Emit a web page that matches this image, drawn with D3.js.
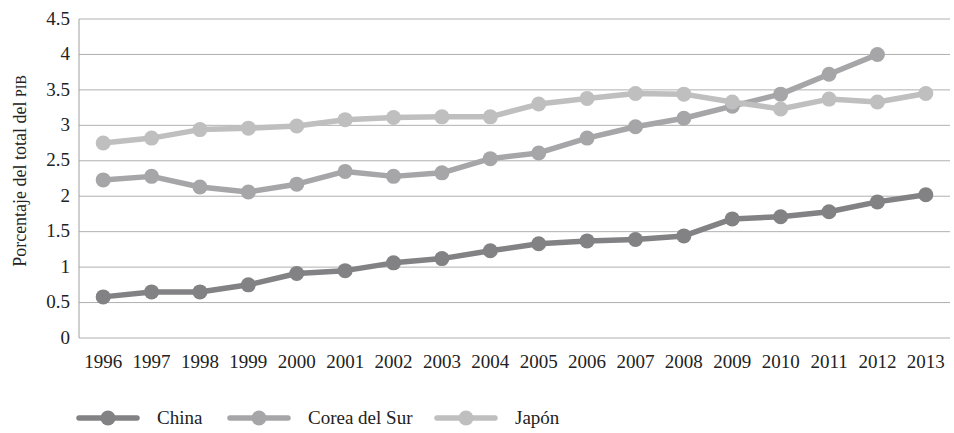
<!DOCTYPE html>
<html>
<head>
<meta charset="utf-8">
<script src="https://cdn.jsdelivr.net/npm/d3@7"></script>
<style>
  body { margin: 0; background: #fff; }
</style>
</head>
<body>
<svg width="954" height="433" font-family="'Liberation Serif', 'Times New Roman', 'DejaVu Serif', serif"></svg>
<script>
const years = ["1996","1997","1998","1999","2000","2001","2002","2003","2004","2005","2006","2007","2008","2009","2010","2011","2012","2013"];
const china = [0.58,0.65,0.65,0.75,0.91,0.95,1.06,1.12,1.23,1.33,1.37,1.39,1.44,1.68,1.71,1.78,1.92,2.02];
const corea = [2.23,2.28,2.13,2.06,2.17,2.35,2.28,2.33,2.53,2.61,2.82,2.98,3.10,3.27,3.44,3.72,4.00,null];
const japon = [2.75,2.82,2.94,2.96,2.99,3.08,3.11,3.12,3.12,3.30,3.38,3.45,3.44,3.33,3.23,3.37,3.33,3.45];
const yTicks = [0,0.5,1,1.5,2,2.5,3,3.5,4,4.5];

const series = [
    {name: "China", values: china, color: "#828284"},
    {name: "Corea del Sur", values: corea, color: "#a6a6a8"},
    {name: "Japón", values: japon, color: "#bfbfc0"}
];

const svg = d3.select("svg");
const margin = {top: 19, right: 4, bottom: 95, left: 79};
const width = +svg.attr("width") - margin.left - margin.right;
const height = +svg.attr("height") - margin.top - margin.bottom;
const g = svg.append("g").attr("transform", `translate(${margin.left},${margin.top})`);

const x = d3.scalePoint().domain(years).range([0, width]).padding(0.5);
const y = d3.scaleLinear().domain([0, 4.5]).range([height, 0]);

// gridlines
g.selectAll(".grid")
    .data(yTicks)
    .join("line")
    .attr("x1", 0).attr("x2", width)
    .attr("y1", d => y(d)).attr("y2", d => y(d))
    .attr("stroke", "#b0b0b0")
    .attr("stroke-width", 1);

g.append("line")
    .attr("x1", 0).attr("x2", 0)
    .attr("y1", 0).attr("y2", height)
    .attr("stroke", "#a0a0a0");

// y tick labels
g.selectAll(".ylab")
    .data(yTicks)
    .join("text")
    .attr("x", -9)
    .attr("y", d => y(d))
    .attr("dy", "0.3em")
    .attr("text-anchor", "end")
    .attr("font-size", 19)
    .attr("fill", "#222")
    .text(d => d);

// x tick labels
g.selectAll(".xlab")
    .data(years)
    .join("text")
    .attr("x", d => x(d))
    .attr("y", height + 30)
    .attr("text-anchor", "middle")
    .attr("font-size", 19)
    .attr("fill", "#222")
    .text(d => d);

// y title
const title = svg.append("text")
    .attr("transform", "translate(26,171) rotate(-90)")
    .attr("text-anchor", "middle")
    .attr("font-size", 18)
    .attr("fill", "#222");
title.append("tspan").text("Porcentaje del total del ");
title.append("tspan").attr("font-size", 14).text("PIB");

const line = d3.line()
    .defined(d => d != null)
    .x((d, i) => x(years[i]))
    .y(d => y(d));

series.forEach(s => {
    g.append("path")
        .datum(s.values)
        .attr("fill", "none")
        .attr("stroke", s.color)
        .attr("stroke-width", 5.5)
        .attr("stroke-linejoin", "round")
        .attr("d", line);
    g.selectAll(null)
        .data(s.values.map((v, i) => ({v, i})).filter(d => d.v != null))
        .join("circle")
        .attr("cx", d => x(years[d.i]))
        .attr("cy", d => y(d.v))
        .attr("r", 7.5)
        .attr("fill", s.color);
});

// legend
const legendX = [79, 230, 437];
const legend = svg.append("g");
series.forEach((s, i) => {
    const lg = legend.append("g").attr("transform", `translate(${legendX[i]},418)`);
    lg.append("line")
        .attr("x1", 0).attr("x2", 58)
        .attr("stroke", s.color)
        .attr("stroke-width", 5.5)
        .attr("stroke-linecap", "round");
    lg.append("circle").attr("cx", 29).attr("r", 7.5).attr("fill", s.color);
    lg.append("text")
        .attr("x", 78)
        .attr("dy", "0.33em")
        .attr("font-size", 19)
        .attr("fill", "#222")
        .text(s.name);
});
</script>
</body>
</html>
